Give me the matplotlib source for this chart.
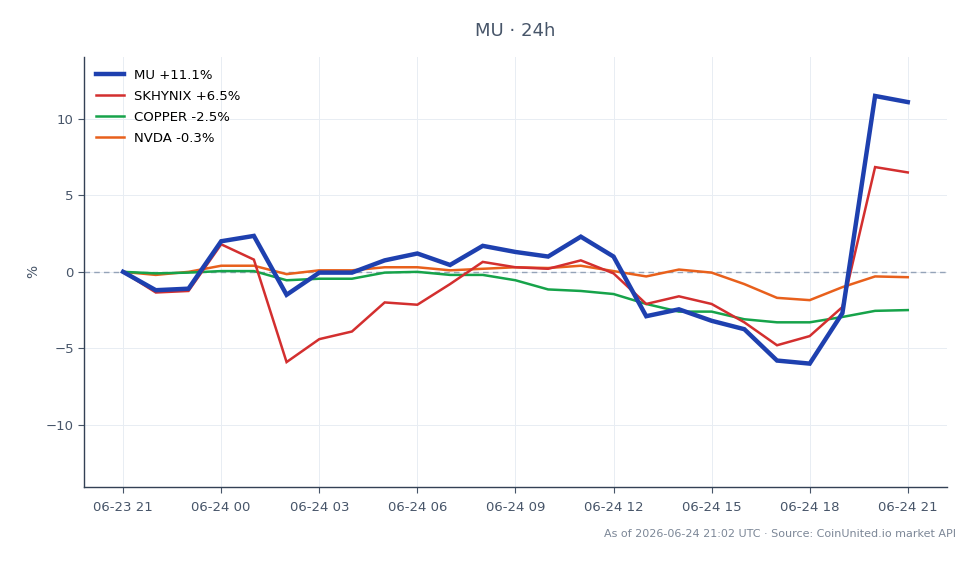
import numpy as np
import pandas as pd
import matplotlib
matplotlib.use("Agg")
import matplotlib.pyplot as plt
import matplotlib.dates as mdates

# hourly timestamps, 06-23 21:00 -> 06-24 21:00
times = pd.date_range("2026-06-23 21:00", "2026-06-24 21:00", freq="h")

mu = [0.0, -1.2, -1.1, 2.0, 2.35, -1.5, -0.05, -0.05, 0.75, 1.2, 0.45, 1.7, 1.3,
      1.0, 2.3, 1.0, -2.9, -2.45, -3.2, -3.75, -5.8, -6.0, -2.7, 11.5, 11.1]
skhynix = [0.0, -1.35, -1.25, 1.8, 0.8, -5.9, -4.4, -3.9, -2.0, -2.15, -0.8, 0.65, 0.3,
           0.2, 0.75, -0.1, -2.1, -1.6, -2.1, -3.3, -4.8, -4.2, -2.3, 6.85, 6.5]
copper = [0.0, -0.1, -0.05, 0.05, 0.05, -0.55, -0.45, -0.45, -0.05, 0.0, -0.2, -0.2, -0.55,
          -1.15, -1.25, -1.45, -2.1, -2.6, -2.6, -3.1, -3.3, -3.3, -2.95, -2.55, -2.5]
nvda = [0.0, -0.2, 0.0, 0.4, 0.4, -0.15, 0.1, 0.1, 0.3, 0.3, 0.1, 0.2, 0.3,
        0.25, 0.4, 0.05, -0.3, 0.15, -0.05, -0.8, -1.7, -1.85, -1.0, -0.3, -0.35]

labels = ["MU +11.1%", "SKHYNIX +6.5%", "COPPER -2.5%", "NVDA -0.3%"]
colors = ["#1e40af", "#d32f2f", "#16a34a", "#e8601c"]
widths = [3.2, 1.8, 1.8, 1.8]

text_col = "#475569"
spine_col = "#334155"

fig, ax = plt.subplots(figsize=(9.79, 5.64), dpi=100)
fig.subplots_adjust(left=0.086, right=0.967, top=0.899, bottom=0.137)

# draw lines back to front so MU sits on top
series = [mu, skhynix, copper, nvda]
for i in [3, 2, 1, 0]:
    ax.plot(times, series[i], color=colors[i], lw=widths[i], label=labels[i],
            zorder=3 + (4 - i), solid_joinstyle="miter")

ax.axhline(0, color="#94a3b8", lw=1, ls=(0, (4, 3)), zorder=2)

ax.set_ylim(-14.05, 14.05)
ax.set_yticks([-10, -5, 0, 5, 10])
ax.set_yticklabels(["\u221210", "\u22125", "0", "5", "10"])
ax.set_xlim(times[0] - pd.Timedelta(hours=1.19), times[-1] + pd.Timedelta(hours=1.19))
ax.xaxis.set_major_locator(mdates.HourLocator(byhour=[0, 3, 6, 9, 12, 15, 18, 21]))
ax.xaxis.set_major_formatter(mdates.DateFormatter("%m-%d %H"))

ax.grid(True, color="#e8edf3", lw=0.7, zorder=0)
ax.set_axisbelow(True)
for s in ["top", "right"]:
    ax.spines[s].set_visible(False)
for s in ["left", "bottom"]:
    ax.spines[s].set_color(spine_col)
    ax.spines[s].set_linewidth(1.0)
ax.tick_params(colors=text_col, labelsize=9.5, length=4)
ax.tick_params(axis="x", pad=6)

ax.set_ylabel("%", color=text_col, fontsize=10)
ax.set_title("MU \u00b7 24h", color=text_col, fontsize=13, pad=15)

# legend in original series order
handles, labs = ax.get_legend_handles_labels()
order = [labs.index(l) for l in labels]
ax.legend([handles[k] for k in order], labels, loc="upper left", frameon=False,
          fontsize=9.5, handlelength=2.1, borderaxespad=0.5, labelspacing=0.6)

fig.text(0.976, 0.054, "As of 2026-06-24 21:02 UTC \u00b7 Source: CoinUnited.io market API",
         ha="right", va="center", fontsize=8, color="#7c8797")

fig.savefig("out.png", dpi=100)
